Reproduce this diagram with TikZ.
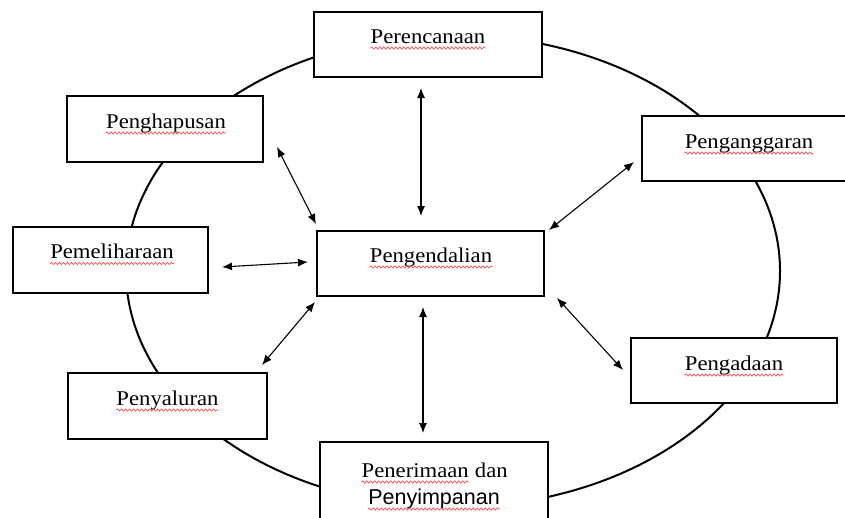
\documentclass[tikz,border=0pt]{standalone}
\usepackage{fontspec}
\usetikzlibrary{arrows.meta,decorations.pathmorphing,calc}
\newfontfamily\boxserif[FakeStretch=1.08]{Liberation Serif}
\newfontfamily\boxsans{Liberation Sans}
\begin{document}
\begin{tikzpicture}[x=1pt,y=-1pt,
  boxnode/.style={draw=black, line width=2pt, fill=white, rectangle, inner sep=0pt},
  lbl/.style={inner sep=0pt, anchor=base, font=\boxserif\fontsize{21}{25}\selectfont},
  lblsans/.style={inner sep=0pt, anchor=base, font=\boxsans\fontsize{21.5}{25}\selectfont},
  wavy/.style={draw=red!70!white, line width=0.7pt, decorate, decoration={snake, segment length=4pt, amplitude=1.1pt}},
  biarrow/.style={line width=1.1pt, {Latex[length=10pt,width=8pt]}-{Latex[length=10pt,width=8pt]}},
  ring/.style={line width=2pt}]
\useasboundingbox (0,0) rectangle (845,517);
\clip (0,0) rectangle (845,517);
\fill[white] (0,0) rectangle (845,517);

% outer cycle
\draw[ring] (453,271) ellipse [x radius=327pt, y radius=236pt];

% boxes
\node[boxnode, minimum width=228pt, minimum height=65pt] (plan)     at (428,44.5) {};
\node[boxnode, minimum width=196pt, minimum height=66pt] (hapus)    at (165,129) {};
\node[boxnode, minimum width=214pt, minimum height=65pt] (anggar)   at (749,148.5) {};
\node[boxnode, minimum width=195pt, minimum height=66pt] (pelihara) at (110.5,260) {};
\node[boxnode, minimum width=227pt, minimum height=65pt] (kendali)  at (430.5,263.5) {};
\node[boxnode, minimum width=206pt, minimum height=65pt] (ada)      at (734,370.5) {};
\node[boxnode, minimum width=199pt, minimum height=66pt] (salur)    at (167.5,406) {};
\node[boxnode, minimum width=228pt, minimum height=88pt] (terima)   at (434,486) {};

% labels
\node[lbl] (tplan)     at (428,43)    {Perencanaan};
\node[lbl] (thapus)    at (166,128)   {Penghapusan};
\node[lbl] (tanggar)   at (749,148)   {Penganggaran};
\node[lbl] (tpelihara) at (112,258.5) {Pemeliharaan};
\node[lbl] (tkendali)  at (431,262)   {Pengendalian};
\node[lbl] (tada)      at (734,370)   {Pengadaan};
\node[lbl] (tsalur)    at (167.5,405) {Penyaluran};
\node[lbl, anchor=base west] (tter1) at (361.5,477) {Penerimaan};
\node[lbl, anchor=base west] (tter2) at ([xshift=5.8pt]tter1.base east) {dan};
\node[lblsans] (tsimpan) at (434,504) {Penyimpanan};

% spell-check underlines
\foreach \t in {tplan,thapus,tanggar,tpelihara,tkendali,tada,tsalur,tter1,tsimpan}
  \draw[wavy] ([yshift=-5pt]\t.base west) -- ([yshift=-5pt]\t.base east);

% arrow end points
\coordinate (p1) at (421,88);    \coordinate (k1) at (421,216);
\coordinate (p2) at (277,147);   \coordinate (k2) at (316,224);
\coordinate (p3) at (634,162);   \coordinate (k3) at (549,230);
\coordinate (p4) at (222,267);   \coordinate (k4) at (308,262);
\coordinate (p5) at (262,365);   \coordinate (k5) at (315,302);
\coordinate (p6) at (623,370);   \coordinate (k6) at (557,298);
\coordinate (p7) at (423,433);   \coordinate (k7) at (423,307);

\foreach \i in {1,...,7}
  \draw[biarrow] (p\i) -- (k\i);
\end{tikzpicture}
\end{document}
